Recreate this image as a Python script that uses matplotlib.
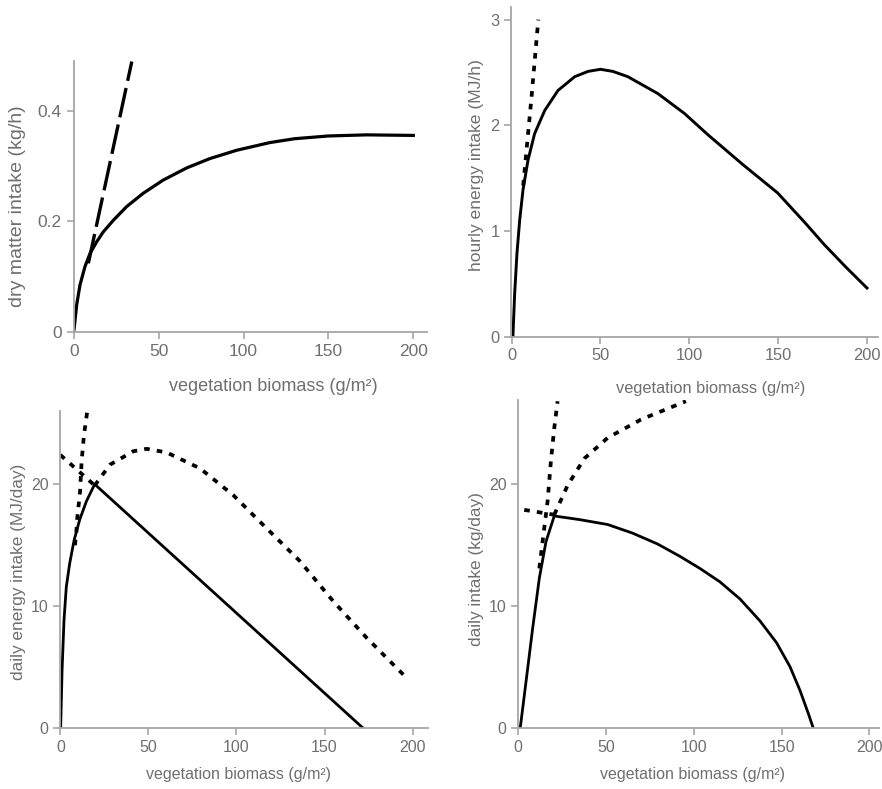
import matplotlib
matplotlib.use("Agg")
import matplotlib.pyplot as plt

plt.rcParams['font.family'] = ['Liberation Sans', 'DejaVu Sans']

# ---- data ----
# panel A: dry matter intake (kg/h)
a_x = [0, 0.2, 1.8, 3.7, 6.6, 9.6, 13.5, 17.4, 23.3, 31.2, 40.9, 52.7, 66.5, 80.2,
       95.9, 115.5, 130, 150, 172.5, 200]
a_y = [0, 0.005, 0.05, 0.085, 0.118, 0.142, 0.163, 0.181, 0.202, 0.227, 0.251,
       0.275, 0.297, 0.314, 0.329, 0.343, 0.350, 0.355, 0.357, 0.356]
a_dash_x = [8.6, 34.2]
a_dash_y = [0.124, 0.49]

# panel B: hourly energy intake (MJ/h)
b_x = [0.7, 1.7, 3.0, 4.5, 6.4, 9.2, 12.9, 18.6, 26.1, 35.5, 43, 50, 57, 65.4,
       82.3, 97.4, 110.5, 130, 149.7, 165, 176, 188, 200]
b_y = [0, 0.41, 0.79, 1.10, 1.39, 1.67, 1.92, 2.14, 2.33, 2.46, 2.51, 2.53, 2.51, 2.46,
       2.30, 2.11, 1.91, 1.63, 1.36, 1.08, 0.87, 0.66, 0.46]
b_dot_x = [6.5, 11.2, 15.0]
b_dot_y = [1.43, 2.27, 3.0]

# panel C: daily energy intake (MJ/day)
c_x = [0, 0.2, 1.0, 2.1, 3.4, 5.3, 7.8, 11.0, 14.8, 19.5, 172]
c_y = [0, 0.13, 4.8, 8.9, 11.6, 13.5, 15.4, 17.1, 18.6, 20.0, 0]
c_steep_x = [8.3, 9.1, 9.6, 11.2, 12.1, 13.4, 15.3, 15.8]
c_steep_y = [15.0, 16.1, 17.2, 19.4, 21.9, 24.0, 26.0, 26.5]
c_left_x = [0, 19.5]
c_left_y = [22.4, 19.9]
c_hump_x = [19.5, 28.2, 41.4, 49, 60.4, 79.3, 98.2, 117, 136, 155, 174, 197.5]
c_hump_y = [19.9, 21.6, 22.7, 22.9, 22.6, 21.3, 19.1, 16.4, 13.7, 10.4, 7.4, 4.0]

# panel D: daily intake (kg/day)
d_x = [1.1, 4.4, 8.2, 12, 15.8, 20.5, 35, 50.9, 65, 79.4, 92, 103.5, 114.9, 126.3,
       137.7, 147.2, 154.8, 160.5, 165.2, 168.1]
d_y = [0, 3.8, 8.2, 12.3, 15.3, 17.4, 17.1, 16.7, 16.0, 15.1, 14.1, 13.1, 12.0,
       10.6, 8.8, 7.0, 5.05, 3.1, 1.23, 0]
d_steep_x = [12, 14.8, 16.7, 18.6, 20.5, 22.4]
d_steep_y = [13.1, 16.4, 18.6, 21.9, 24.6, 26.8]
d_left_x = [3.4, 20.5]
d_left_y = [17.9, 17.5]
d_rise_x = [20.5, 28.1, 37.6, 50.9, 69.9, 95.5]
d_rise_y = [17.5, 19.9, 22.1, 23.8, 25.3, 26.8]

x_ticks = [0, 50, 100, 150, 200]
xlab = 'vegetation biomass (g/m²)'

grey = '#6f6f6f'
spine = '#a6a6a6'
dots = dict(color='black', lw=2.7, ls=(0, (1.5, 1.9)), dash_capstyle='butt')

fig = plt.figure(figsize=(8.82, 7.89), dpi=100)


def style(ax, xlim, ylim, yticks, yticklabels, ylabel, tick_fs, xl_fs, yl_fs,
          xl_pos, yl_pos):
    ax.set_xlim(*xlim)
    ax.set_ylim(*ylim)
    for s in ['top', 'right']:
        ax.spines[s].set_visible(False)
    for s in ['left', 'bottom']:
        ax.spines[s].set_color(spine)
        ax.spines[s].set_linewidth(1.3)
    ax.set_xticks(x_ticks)
    ax.set_yticks(yticks)
    ax.set_yticklabels(yticklabels)
    ax.tick_params(colors=spine, labelcolor=grey, labelsize=tick_fs,
                   length=5, width=1.2)
    ax.set_xlabel(xlab, fontsize=xl_fs, color=grey)
    ax.set_ylabel(ylabel, fontsize=yl_fs, color=grey)
    ax.xaxis.set_label_coords(*xl_pos)
    ax.xaxis.label.set_va('center')
    ax.yaxis.set_label_coords(*yl_pos)
    ax.yaxis.label.set_va('center')


# A
ax1 = fig.add_axes([0.0836, 0.5796, 0.4002, 0.3431])
ax1.plot(a_x, a_y, color='black', lw=2.3)
ax1.plot(a_dash_x, a_dash_y, color='black', lw=2.4, ls=(0, (9, 2.2)))
style(ax1, (0, 207.9), (0, 0.491), [0, 0.2, 0.4], ['0', '0.2', '0.4'],
      'dry matter intake (kg/h)', 12.5, 13, 14, (0.565, -0.204), (-0.158, 0.464))

# B
ax2 = fig.add_axes([0.5797, 0.5733, 0.4154, 0.4179])
ax2.plot(b_x, b_y, color='black', lw=2.1)
ax2.plot(b_dot_x, b_dot_y, **dots)
style(ax2, (-0.2, 206), (0, 3.12), [0, 1, 2, 3], ['0', '1', '2', '3'],
      'hourly energy intake (MJ/h)', 11.8, 11.8, 12.6, (0.545, -0.156), (-0.096, 0.521))

# C
ax3 = fig.add_axes([0.0684, 0.0769, 0.4172, 0.4022])
ax3.plot(c_x, c_y, color='black', lw=2.0)
ax3.plot(c_steep_x, c_steep_y, **dots)
ax3.plot(c_left_x, c_left_y, **dots)
ax3.plot(c_hump_x, c_hump_y, **dots)
style(ax3, (0, 208.9), (0, 26.0), [0, 10, 20], ['0', '10', '20'],
      'daily energy intake (MJ/day)', 11.5, 11.5, 12.4, (0.483, -0.147), (-0.115, 0.493))

# D
ax4 = fig.add_axes([0.5876, 0.0769, 0.4090, 0.4161])
ax4.plot(d_x, d_y, color='black', lw=2.0)
ax4.plot(d_steep_x, d_steep_y, **dots)
ax4.plot(d_left_x, d_left_y, **dots)
ax4.plot(d_rise_x, d_rise_y, **dots)
style(ax4, (0, 205.5), (0, 26.9), [0, 10, 20], ['0', '10', '20'],
      'daily intake (kg/day)', 11.5, 11.5, 12.4, (0.484, -0.142), (-0.117, 0.485))

fig.savefig('out.png', dpi=100)
